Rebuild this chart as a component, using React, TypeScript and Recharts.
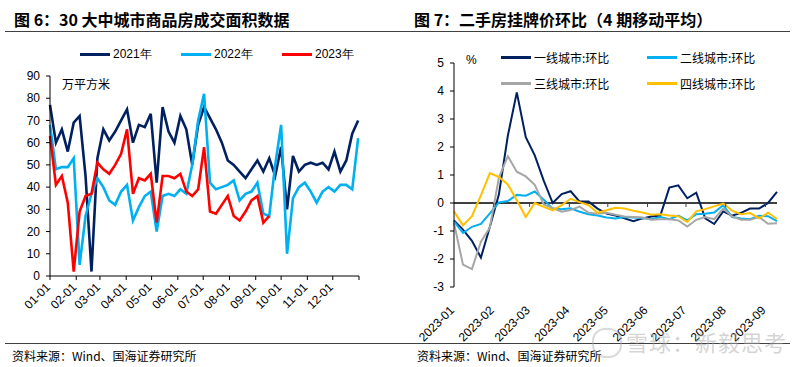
import { LineChart, Line, XAxis, YAxis, ReferenceLine } from 'recharts';

// ---- Fig 6: weekly transaction area, 30 cities (万平方米)
const monthStartDays = [0, 31, 59, 90, 120, 151, 181, 212, 243, 273, 304, 334, 365];
const monthLabels = ['01-01', '02-01', '03-01', '04-01', '05-01', '06-01', '07-01', '08-01', '09-01', '10-01', '11-01', '12-01', ''];

const area2021 = [
  77, 60, 66, 56, 69, 72, 45, 2, 53, 66, 61, 65, 70, 75, 60, 68, 67, 73, 42, 76,
  65, 60, 72, 66, 50, 68, 76, 71, 66, 60, 52, 50, 47, 44, 48, 52, 47, 53, 45, 58,
  30, 54, 47, 50, 51, 50, 51, 48, 56, 47, 52, 64, 70,
];
const area2022 = [
  68, 48, 49, 49, 53, 5, 27, 37, 44, 40, 34, 32, 38, 41, 25, 31, 36, 38, 20, 36,
  37, 36, 39, 37, 50, 70, 82, 42, 39, 40, 41, 43, 34, 37, 38, 42, 28, 27, 50, 68,
  10, 35, 40, 42, 38, 33, 38, 40, 38, 41, 41, 39, 62,
];
const area2023 = [
  63, 41, 45, 33, 2, 29, 36, 37, 51, 48, 46, 50, 55, 66, 37, 44, 43, 46, 24, 45,
  45, 44, 46, 38, 36, 39, 58, 29, 28, 32, 36, 27, 25, 29, 34, 36, 24, 27,
];
const leftSeries = [
  { key: 'y2021', name: '2021年', color: '#002060', values: area2021 },
  { key: 'y2022', name: '2022年', color: '#00B0F0', values: area2022 },
  { key: 'y2023', name: '2023年', color: '#FF0000', values: area2023 },
];
const leftYTicks = [0, 10, 20, 30, 40, 50, 60, 70, 80, 90];

// ---- Fig 7: second-hand listing price MoM (4-period MA), weekly 2023
const rMonthDays = [0, 31, 59, 90, 120, 151, 181, 212, 243];
const rMonthLabels = ['2023-01', '2023-02', '2023-03', '2023-04', '2023-05', '2023-06', '2023-07', '2023-08', '2023-09'];

const tier1 = [
  -0.62, -0.95, -1.35, -1.95, -0.85, 0.3, 2.4, 3.95, 2.35, 1.7, 0.8, 0, 0.32, 0.42, 0.05, 0.05,
  -0.2, -0.38, -0.45, -0.55, -0.65, -0.55, -0.48, -0.45, 0.55, 0.63, 0.17, 0.37, -0.55, -0.75,
  -0.3, -0.45, -0.35, -0.2, -0.2, 0, 0.4,
];
const tier2 = [
  -0.66, -1.07, -0.85, -0.75, -0.37, 0.02, 0.07, 0.29, 0.26, 0.41, 0.12, -0.2, -0.22, -0.19, -0.31, -0.4,
  -0.45, -0.52, -0.55, -0.5, -0.52, -0.54, -0.58, -0.5, -0.58, -0.45, -0.62, -0.4, -0.38, -0.34,
  -0.08, -0.5, -0.55, -0.58, -0.46, -0.47, -0.65,
];
const tier3 = [
  -0.72, -2.2, -2.36, -1.38, -0.88, 0.9, 1.67, 1.12, 0.95, 0.65, -0.05, -0.18, -0.31, -0.25, -0.13, -0.35,
  -0.38, -0.35, -0.42, -0.48, -0.5, -0.52, -0.6, -0.58, -0.58, -0.62, -0.84, -0.6, -0.5, -0.58,
  -0.2, -0.48, -0.6, -0.6, -0.5, -0.74, -0.72,
];
const tier4 = [
  -0.3, -0.8, -0.47, 0.27, 1.07, 0.93, 0.66, 0.1, -0.5, 0, -0.14, -0.26, -0.08, 0.15, 0.03, -0.08,
  -0.35, -0.26, -0.17, -0.2, -0.28, -0.34, -0.42, -0.4, -0.45, -0.47, -0.68, -0.3, -0.22, -0.12,
  -0.02, -0.27, -0.4, -0.36, -0.55, -0.35, -0.57,
];
const rightSeries = [
  { key: 't1', name: '一线城市:环比', color: '#002060', values: tier1 },
  { key: 't2', name: '二线城市:环比', color: '#00B0F0', values: tier2 },
  { key: 't3', name: '三线城市:环比', color: '#A6A6A6', values: tier3 },
  { key: 't4', name: '四线城市:环比', color: '#FFC000', values: tier4 },
];
const rightYTicks = [-3, -2, -1, 0, 1, 2, 3, 4, 5];

const ARIAL = '"Liberation Sans", Arial, sans-serif';
const CJK = '"Noto Sans CJK SC", sans-serif';

const leftData = area2021.map((_, i) => {
  const row: any = { day: i * 7 };
  leftSeries.forEach((s) => { if (i < s.values.length) row[s.key] = s.values[i]; });
  return row;
});
const rightData = tier1.map((_, i) => {
  const row: any = { day: i * 7 };
  rightSeries.forEach((s) => { row[s.key] = s.values[i]; });
  return row;
});

// right chart layout, used to put the small ticks on the zero line
const R_TOP = 63;
const R_PLOT_H = 224;
const R_ZERO_Y = R_TOP + (R_PLOT_H * 5) / 8;

const LeftTick = ({ x, y, payload }: any) => {
  const label = monthLabels[monthStartDays.indexOf(payload.value)] ?? '';
  const ax = x + 1;
  const ay = y + 6;
  return (
    <text x={ax} y={ay} transform={`rotate(-45, ${ax}, ${ay})`} textAnchor="end" fontSize={12} fill="#000" fontFamily={ARIAL}>
      {label}
    </text>
  );
};

const RightTick = ({ x, y, payload }: any) => {
  const label = rMonthLabels[rMonthDays.indexOf(payload.value)] ?? '';
  const ax = x + 1;
  const ay = y + 16;
  return (
    <g>
      {payload.value > 0 && <line x1={x} x2={x} y1={R_ZERO_Y} y2={R_ZERO_Y + 4} stroke="#404040" strokeWidth={1} />}
      <text x={ax} y={ay} transform={`rotate(-45, ${ax}, ${ay})`} textAnchor="end" fontSize={12} fill="#000" fontFamily={ARIAL}>
        {label}
      </text>
    </g>
  );
};

const LegendLine = ({ color }: { color: string }) => (
  <span style={{ display: 'inline-block', width: 30, height: 3, background: color, marginRight: 3, verticalAlign: 'middle' }} />
);

const abs = (left: number, top: number, extra: any = {}) => ({ position: 'absolute' as const, left, top, whiteSpace: 'nowrap' as const, ...extra });

export default function App() {
  return (
    <div style={{ position: 'absolute', left: 0, top: 0, width: 800, height: 367, background: '#fff', overflow: 'hidden' }}>
      {/* titles */}
      <div style={abs(14, 7, { fontFamily: CJK, fontWeight: 700, fontSize: 16, color: '#000' })}>图 6：30 大中城市商品房成交面积数据</div>
      <div style={abs(414, 7, { fontFamily: CJK, fontWeight: 700, fontSize: 16, color: '#000' })}>图 7：二手房挂牌价环比（4 期移动平均）</div>
      <div style={abs(5, 31, { width: 785, height: 1, background: '#404040' })} />
      <div style={abs(5, 343, { width: 785, height: 1, background: '#404040' })} />
      <div style={abs(12, 347, { fontFamily: CJK, fontSize: 12, color: '#000' })}>资料来源：Wind、国海证券研究所</div>
      <div style={abs(417, 347, { fontFamily: CJK, fontSize: 12, color: '#000' })}>资料来源：Wind、国海证券研究所</div>

      {/* left chart */}
      <div style={abs(0, 0)}>
        <LineChart width={400} height={367} data={leftData} margin={{ top: 76, right: 41, bottom: 61, left: 0 }}>
          <XAxis
            dataKey="day"
            type="number"
            domain={[0, 365]}
            ticks={monthStartDays}
            interval={0}
            height={30}
            stroke="#000"
            tickSize={4}
            tick={<LeftTick />}
          />
          <YAxis
            type="number"
            domain={[0, 90]}
            ticks={leftYTicks}
            interval={0}
            width={50}
            stroke="#000"
            tickSize={4}
            tickMargin={6}
            tick={{ fontSize: 12, fill: '#000', fontFamily: ARIAL }}
          />
          {leftSeries.map((s) => (
            <Line key={s.key} dataKey={s.key} name={s.name} stroke={s.color} strokeWidth={2.6} dot={false} type="linear" isAnimationActive={false} />
          ))}
        </LineChart>
      </div>
      <div style={abs(62, 75, { fontFamily: CJK, fontSize: 12, color: '#000' })}>万平方米</div>
      <div style={abs(80, 46, { display: 'flex', gap: 0, fontFamily: ARIAL, fontSize: 12, color: '#000' })}>
        {leftSeries.map((s) => (
          <div key={s.key} style={{ width: 101, display: 'flex', alignItems: 'center' }}>
            <LegendLine color={s.color} />
            <span>{s.name}</span>
          </div>
        ))}
      </div>

      {/* right chart */}
      <div style={abs(400, 0)}>
        <LineChart width={400} height={367} data={rightData} margin={{ top: R_TOP, right: 23, bottom: 50, left: 0 }}>
          <XAxis
            dataKey="day"
            type="number"
            domain={[0, 252]}
            ticks={rMonthDays}
            interval={0}
            height={30}
            axisLine={false}
            tickLine={false}
            tick={<RightTick />}
          />
          <YAxis
            type="number"
            domain={[-3, 5]}
            ticks={rightYTicks}
            interval={0}
            width={54}
            stroke="#000"
            tickSize={4}
            tickMargin={6}
            tick={{ fontSize: 12, fill: '#000', fontFamily: ARIAL }}
          />
          <ReferenceLine y={0} stroke="#404040" strokeWidth={2} />
          {rightSeries.map((s) => (
            <Line key={s.key} dataKey={s.key} name={s.name} stroke={s.color} strokeWidth={2} dot={false} type="linear" isAnimationActive={false} />
          ))}
        </LineChart>
      </div>
      <div style={abs(466, 53, { fontFamily: ARIAL, fontSize: 12, color: '#000' })}>%</div>
      <div style={abs(501, 44, { width: 300, display: 'flex', flexWrap: 'wrap', fontFamily: CJK, fontSize: 12, color: '#000' })}>
        {rightSeries.map((s) => (
          <div key={s.key} style={{ width: 146, height: 26, display: 'flex', alignItems: 'center' }}>
            <LegendLine color={s.color} />
            <span>{s.name}</span>
          </div>
        ))}
      </div>

      {/* watermark */}
      <div style={abs(592, 328, { width: 26, height: 26, borderRadius: 13, border: '2px solid rgba(170,170,170,0.45)' })} />
      <div style={abs(626, 325, { fontFamily: CJK, fontSize: 22, color: 'rgba(170,170,170,0.5)', letterSpacing: 1 })}>雪球：新毅思考</div>
    </div>
  );
}
